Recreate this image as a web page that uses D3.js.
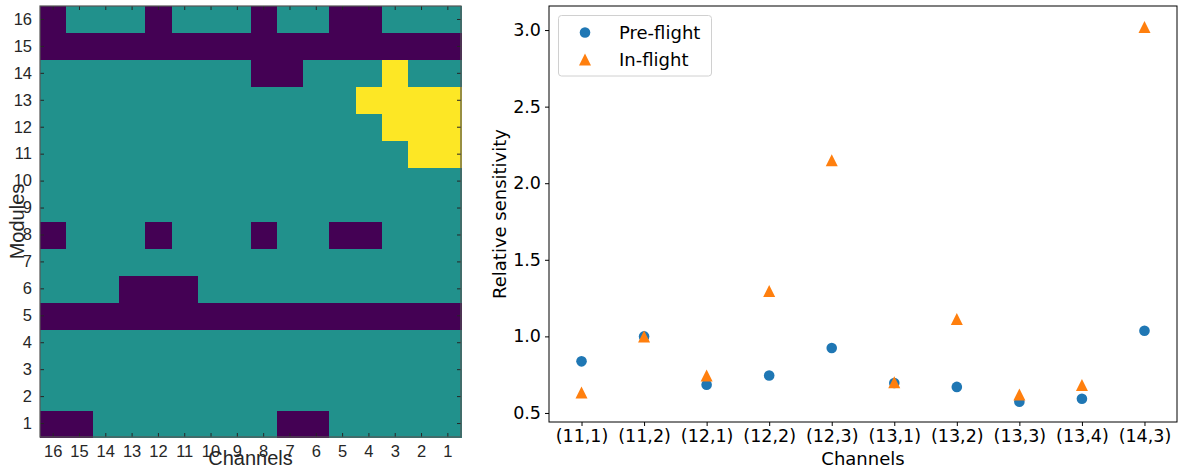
<!DOCTYPE html>
<html>
<head>
<meta charset="utf-8">
<script src="https://cdn.jsdelivr.net/npm/d3@7"></script>
<style>
  html, body { margin: 0; padding: 0; background: #fff; }
  svg { display: block; }
</style>
</head>
<body>
<svg id="chart" width="1180" height="469"></svg>
<script>
// ---------------- DATA ----------------
// Heatmap: channels shown left to right, modules bottom to top
const channels = [16, 15, 14, 13, 12, 11, 10, 9, 8, 7, 6, 5, 4, 3, 2, 1];
const modules = [1, 2, 3, 4, 5, 6, 7, 8, 9, 10, 11, 12, 13, 14, 15, 16];
// status per module (index aligned with channels array): 0 = dead, 1 = normal, 2 = anomalous
const module1  = [0,0,1,1,1,1,1,1,1,0,0,1,1,1,1,1];
const module2  = [1,1,1,1,1,1,1,1,1,1,1,1,1,1,1,1];
const module3  = [1,1,1,1,1,1,1,1,1,1,1,1,1,1,1,1];
const module4  = [1,1,1,1,1,1,1,1,1,1,1,1,1,1,1,1];
const module5  = [0,0,0,0,0,0,0,0,0,0,0,0,0,0,0,0];
const module6  = [1,1,1,0,0,0,1,1,1,1,1,1,1,1,1,1];
const module7  = [1,1,1,1,1,1,1,1,1,1,1,1,1,1,1,1];
const module8  = [0,1,1,1,0,1,1,1,0,1,1,0,0,1,1,1];
const module9  = [1,1,1,1,1,1,1,1,1,1,1,1,1,1,1,1];
const module10 = [1,1,1,1,1,1,1,1,1,1,1,1,1,1,1,1];
const module11 = [1,1,1,1,1,1,1,1,1,1,1,1,1,1,2,2];
const module12 = [1,1,1,1,1,1,1,1,1,1,1,1,1,2,2,2];
const module13 = [1,1,1,1,1,1,1,1,1,1,1,1,2,2,2,2];
const module14 = [1,1,1,1,1,1,1,1,0,0,1,1,1,2,1,1];
const module15 = [0,0,0,0,0,0,0,0,0,0,0,0,0,0,0,0];
const module16 = [0,1,1,1,0,1,1,1,0,1,1,0,0,1,1,1];
const moduleStatus = [module1, module2, module3, module4, module5, module6, module7, module8,
                      module9, module10, module11, module12, module13, module14, module15, module16];

// Scatter: relative sensitivity
const pixelLabels = ["(11,1)", "(11,2)", "(12,1)", "(12,2)", "(12,3)", "(13,1)", "(13,2)", "(13,3)", "(13,4)", "(14,3)"];
const preFlight = [0.837, 1.00, 0.685, 0.745, 0.924, 0.696, 0.670, 0.574, 0.593, 1.037];
const inFlight  = [0.634, 1.00, 0.745, 1.296, 2.150, 0.700, 1.113, 0.621, 0.683, 3.020];
const yTicks = [0.5, 1.0, 1.5, 2.0, 2.5, 3.0];

// ---------------- DRAW ----------------
const svg = d3.select("#chart");

// ===== Left heatmap =====
const hm = { left: 40, right: 461, top: 6, bottom: 437 };
const xH = d3.scaleBand().domain(channels).range([hm.left, hm.right]).padding(0);
const yH = d3.scaleBand().domain(modules).range([hm.bottom, hm.top]).padding(0);
const colorH = d3.scaleOrdinal().domain([0, 1, 2]).range(["#440154", "#21918c", "#fde725"]);

const cells = [];
moduleStatus.forEach((row, mi) => {
  row.forEach((v, ci) => cells.push({ module: modules[mi], channel: channels[ci], v }));
});

const gH = svg.append("g");
gH.selectAll("rect.cell").data(cells).join("rect")
  .attr("class", "cell")
  .attr("x", d => xH(d.channel))
  .attr("y", d => yH(d.module))
  .attr("width", xH.bandwidth() + 0.5)
  .attr("height", yH.bandwidth() + 0.5)
  .attr("fill", d => colorH(d.v))
  .attr("shape-rendering", "crispEdges");

const leftFont = "'Liberation Sans', Arial, Helvetica, sans-serif";
const axisGray = "#262626";

// ticks inward on all four sides
const tickLen = 4;
const xHB = d3.axisBottom(xH).tickSize(-tickLen).tickPadding(8);
const xHT = d3.axisTop(xH).tickSize(-tickLen).tickFormat("");
const yHL = d3.axisLeft(yH).tickSize(-tickLen).tickPadding(8);
const yHR = d3.axisRight(yH).tickSize(-tickLen).tickFormat("");

function styleLeftAxis(g) {
  g.select(".domain").remove();
  g.selectAll(".tick line").attr("stroke", axisGray).attr("stroke-width", 1);
  g.selectAll(".tick text").attr("fill", axisGray).style("font-family", leftFont).style("font-size", "16.5px");
}
gH.append("g").attr("transform", `translate(0,${hm.bottom})`).call(xHB).call(styleLeftAxis);
gH.append("g").attr("transform", `translate(0,${hm.top})`).call(xHT).call(styleLeftAxis);
gH.append("g").attr("transform", `translate(${hm.left},0)`).call(yHL).call(styleLeftAxis);
gH.append("g").attr("transform", `translate(${hm.right},0)`).call(yHR).call(styleLeftAxis);

gH.append("rect")
  .attr("x", hm.left).attr("y", hm.top)
  .attr("width", hm.right - hm.left).attr("height", hm.bottom - hm.top)
  .attr("fill", "none").attr("stroke", "#555").attr("stroke-width", 1.2);

gH.append("text")
  .attr("x", (hm.left + hm.right) / 2).attr("y", 465)
  .attr("text-anchor", "middle")
  .attr("fill", axisGray)
  .style("font-family", leftFont).style("font-size", "20px")
  .text("Channels");

gH.append("text")
  .attr("transform", `translate(24,${(hm.top + hm.bottom) / 2}) rotate(-90)`)
  .attr("text-anchor", "middle")
  .attr("fill", axisGray)
  .style("font-family", leftFont).style("font-size", "20px")
  .text("Modules");

// ===== Right scatter =====
const sc = { left: 549, right: 1177, top: 6, bottom: 422 };
const rightFont = "'DejaVu Sans', sans-serif";
const xS = d3.scalePoint().domain(pixelLabels).range([sc.left, sc.right]).padding(0.52);
const yS = d3.scaleLinear().domain([0.441, 3.157]).range([sc.bottom, sc.top]);

const gS = svg.append("g");

const xSA = d3.axisBottom(xS).tickSize(4).tickPadding(4);
const ySA = d3.axisLeft(yS).tickValues(yTicks).tickFormat(d3.format(".1f")).tickSize(4).tickPadding(4);

function styleRightAxis(g) {
  g.select(".domain").remove();
  g.selectAll(".tick line").attr("stroke", "#000").attr("stroke-width", 1);
  g.selectAll(".tick text").attr("fill", "#000").style("font-family", rightFont).style("font-size", "17.5px");
}
gS.append("g").attr("transform", `translate(0,${sc.bottom})`).call(xSA).call(styleRightAxis);
gS.append("g").attr("transform", `translate(${sc.left},0)`).call(ySA).call(styleRightAxis);

gS.append("rect")
  .attr("x", sc.left).attr("y", sc.top)
  .attr("width", sc.right - sc.left).attr("height", sc.bottom - sc.top)
  .attr("fill", "none").attr("stroke", "#000").attr("stroke-width", 1);

const blue = "#1f77b4", orange = "#ff7f0e";
const circleSym = d3.symbol().type(d3.symbolCircle).size(Math.PI * 5.3 * 5.3);
const triPath = s => `M0,${-s}L${s},${s}L${-s},${s}Z`;

gS.selectAll("path.pre").data(preFlight).join("path")
  .attr("class", "pre")
  .attr("transform", (d, i) => `translate(${xS(pixelLabels[i])},${yS(d)})`)
  .attr("d", circleSym())
  .attr("fill", blue);

gS.selectAll("path.in").data(inFlight).join("path")
  .attr("class", "in")
  .attr("transform", (d, i) => `translate(${xS(pixelLabels[i])},${yS(d)})`)
  .attr("d", triPath(6))
  .attr("fill", orange);

// legend
const lg = gS.append("g");
lg.append("rect")
  .attr("x", 558.5).attr("y", 15.5).attr("width", 153).attr("height", 60.5)
  .attr("rx", 3).attr("fill", "#fff").attr("fill-opacity", 0.8)
  .attr("stroke", "#d0d0d0").attr("stroke-width", 1);
lg.append("path").attr("transform", "translate(585,32.5)").attr("d", circleSym()).attr("fill", blue);
lg.append("path").attr("transform", "translate(585,59.5)").attr("d", triPath(6)).attr("fill", orange);
lg.append("text").attr("x", 619).attr("y", 38.5)
  .style("font-family", rightFont).style("font-size", "18px").text("Pre-flight");
lg.append("text").attr("x", 619).attr("y", 65.5)
  .style("font-family", rightFont).style("font-size", "18px").text("In-flight");

// axis labels
gS.append("text")
  .attr("x", (sc.left + sc.right) / 2).attr("y", 465)
  .attr("text-anchor", "middle")
  .style("font-family", rightFont).style("font-size", "18px")
  .text("Channels");
gS.append("text")
  .attr("transform", `translate(506,${(sc.top + sc.bottom) / 2}) rotate(-90)`)
  .attr("text-anchor", "middle")
  .style("font-family", rightFont).style("font-size", "18px")
  .text("Relative sensitivity");
</script>
</body>
</html>
